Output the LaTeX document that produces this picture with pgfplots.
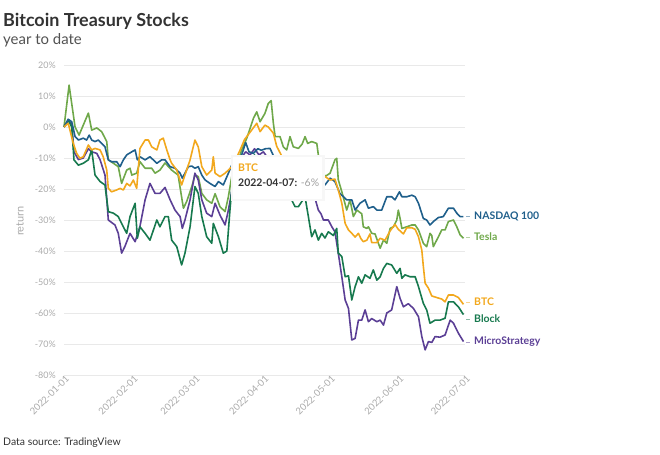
\documentclass[border=0pt]{standalone}
\usepackage{fontspec}
\setmainfont{Lato}
\usepackage{pgfplots}
\pgfplotsset{compat=1.18}
\definecolor{cNas}{HTML}{1F5F8B}
\definecolor{cTes}{HTML}{6FA84A}
\definecolor{cBtc}{HTML}{F2A81D}
\definecolor{cBlk}{HTML}{17794E}
\definecolor{cMst}{HTML}{5B3F95}
\definecolor{cTick}{HTML}{AAAAAA}
\definecolor{cGrid}{HTML}{E9E9E9}
\definecolor{cTitle}{HTML}{333333}
\begin{document}
\begin{tikzpicture}[x=1bp,y=1bp]
\path[use as bounding box] (0,0) rectangle (660,-455);
\node[anchor=base west, inner sep=0pt, font=\bfseries\fontsize{18}{20}\selectfont, text=cTitle] at (3,-27) {Bitcoin Treasury Stocks};
\node[anchor=base west, inner sep=0pt, font=\fontsize{15}{18}\selectfont, text=cTitle!85] at (3,-45) {year to date};
\node[anchor=base west, inner sep=0pt, font=\fontsize{10.5}{12}\selectfont, text=cTitle] at (3,-445) {Data source: TradingView};
\node[rotate=90, inner sep=0pt, font=\fontsize{11}{12}\selectfont, text=cTick] at (20,-221) {return};
\begin{axis}[
  at={(64bp,-375bp)}, anchor=south west, scale only axis,
  width=401bp, height=310bp,
  xmin=0, xmax=181, ymin=-80, ymax=20,
  axis line style={draw=none},
  tick style={draw=none},
  ymajorgrids, grid style={cGrid, line width=0.6bp},
  ytick={-80,-70,...,20},
  /pgf/number format/assume math mode=true,
  yticklabel={\pgfmathprintnumber{\tick}\%},
  yticklabel style={font=\fontsize{9}{10}\selectfont, text=cTick, inner sep=0pt, xshift=-8bp},
  xtick={0,31,59,90,120,151,181},
  xticklabels={2022-01-01,2022-02-01,2022-03-01,2022-04-01,2022-05-01,2022-06-01,2022-07-01},
  xticklabel style={font=\fontsize{9.5}{10}\selectfont, text=cTick, rotate=45, anchor=east, inner sep=0pt, xshift=1bp, yshift=-4bp},
  clip=false,
  every axis plot/.append style={line width=1.6bp, line join=round, mark=none},
]
\addplot[cTes] coordinates {(0,0) (2.3,13.5) (5.0,0) (6.8,-2.6) (11.0,4.5) (12.5,-1) (14.8,-0.3) (17.0,-1.5) (19.3,-4.7) (20.0,-10.6) (22.3,-11.7) (24.5,-12.8) (26.0,-18.2) (28.3,-13.9) (29.8,-13.3) (30.6,-15.5) (32.8,-14.9) (34.3,-11.2) (36.6,-13.3) (39.6,-13.3) (41.1,-14.9) (43.3,-13.9) (45.6,-11.6) (48.6,-13.9) (51.5,-15.5) (53.9,-26.2) (55.4,-24) (57.7,-19.2) (59.1,-15.5) (60.6,-16) (62.2,-21.4) (64.4,-23.5) (66.7,-24.6) (68.2,-21.5) (70.4,-25.7) (72.7,-27.3) (74.2,-22.5) (75.7,-16) (77.2,-13.9) (80.2,-7.4) (82.5,-3.6) (85.5,2.8) (87.0,4.9) (88.5,1.7) (90.7,4.4) (92.2,7.6) (93.5,8.5) (94.5,1.2) (95.3,-3.1) (97.5,-3.1) (99.0,-6.4) (100.5,-7.4) (102.0,-3.1) (103.5,-6.4) (105.8,-6.9) (107.5,-5.5) (108.8,-3.1) (110.0,-5.3) (111.8,-4.7) (114.1,-5.3) (114.8,-9) (116.3,-13) (117.8,-16) (120.1,-14.9) (122.3,-10.6) (123.1,-10.1) (123.8,-17) (125.4,-20.9) (127.6,-26.8) (129.1,-23.5) (130.6,-28.9) (132.2,-26.8) (134.4,-28) (135.1,-32.2) (136.7,-32.7) (137.4,-32.2) (138.9,-34.3) (140.4,-34.5) (142.7,-39.1) (144.2,-36.5) (145.7,-37.5) (147.2,-32.7) (148.7,-32.2) (150.2,-30) (150.9,-26.8) (151.7,-29.5) (152.5,-32.7) (154.7,-32.2) (157.0,-31.6) (158.5,-31.6) (160.0,-33.2) (162.2,-37.5) (163.7,-38.6) (165.2,-34.3) (166.0,-35) (166.7,-38.6) (169.0,-35.4) (170.5,-33.2) (172.0,-33.2) (173.5,-30.5) (175.8,-30) (177.3,-32.2) (178.8,-34.8) (180.3,-35.9)};
\addplot[cMst] coordinates {(0,0) (1.9,2) (3.5,1) (4.5,-8) (6.5,-10.5) (8.7,-10) (11,-7) (12.5,-8) (14.8,-8.5) (16.3,-10.6) (18.5,-15.5) (20,-30) (23,-31.6) (24.5,-34.3) (26,-40.7) (27.5,-38.5) (29.8,-34.3) (32.1,-37) (34.3,-32) (36.6,-23.5) (38.8,-18.2) (41.1,-21.4) (43.3,-21.4) (45.6,-19.5) (47.9,-23.5) (50.1,-26.8) (52.4,-28.9) (53.4,-32.7) (54.6,-30) (56.9,-23.5) (59.1,-14.9) (60.6,-17.1) (62.2,-23.5) (64.4,-27.8) (66.7,-28.9) (68.2,-24.6) (70.4,-28.4) (72.7,-31.6) (74.2,-26.8) (75.7,-20.9) (77.5,-14) (80,-10) (82,-8) (84,-9) (86,-7) (88,-9) (90,-8) (92,-10) (94,-12) (96,-14) (98,-16) (100,-18) (102,-17) (104,-20) (106,-21) (108.8,-21.5) (110.3,-22.5) (112.6,-21.4) (113.3,-23) (114.8,-26.8) (116,-28) (117.1,-30) (119.3,-30) (120.9,-32.2) (122.3,-33.8) (123.8,-40.7) (125.4,-48.3) (126.9,-55.8) (128.4,-58.5) (129.9,-68.7) (131.4,-68.2) (132.9,-62.3) (134.4,-62.3) (135.9,-59) (137.4,-62.8) (138.9,-61.8) (141.2,-62.8) (142.7,-62.3) (144.2,-63.9) (145.7,-60) (147.9,-59) (150.2,-51.5) (151.7,-55.3) (153.2,-58) (155.4,-57) (157.7,-58.5) (160.0,-61.2) (161.5,-67.6) (163.0,-71.9) (164.5,-69.2) (166.0,-69.5) (167.5,-67.6) (169.7,-67.8) (172.0,-67.1) (174.3,-62.3) (175.8,-63.3) (178.0,-66.5) (180.3,-69.2)};
\addplot[cBlk] coordinates {(0,0) (1.9,2.3) (3.5,0) (4.5,-10.6) (6.5,-12.3) (8.7,-11.7) (11.0,-10.6) (12.5,-7.4) (14.0,-15.5) (16.3,-17.6) (18.5,-18.7) (20.0,-27.3) (22.3,-27.8) (24.5,-28.9) (26.0,-31.1) (28.3,-34.3) (29.8,-28.9) (32.1,-24.6) (33.1,-35.9) (34.3,-32.2) (36.6,-34.3) (38.8,-36.5) (41.9,-30) (43.3,-32.2) (45.6,-28.9) (47.1,-28.9) (48.6,-36.5) (50.9,-38.6) (53.1,-44.5) (54.6,-40.7) (56.9,-32.2) (59.1,-19.2) (60.6,-21.4) (62.2,-28.9) (64.4,-35.4) (66.7,-37.5) (67.4,-31.1) (69.7,-35.4) (71.9,-40.7) (73.5,-40) (74.9,-26.8) (75.7,-20.3) (77.5,-15) (80,-12) (82,-10) (84,-11) (86,-9) (88,-12) (90,-13) (92,-14) (94,-17) (96.7,-22.5) (99.0,-23) (100.5,-22.5) (102.0,-22.5) (104.3,-25.7) (105.8,-25.7) (108.8,-22.5) (110.3,-28.9) (111.8,-35.4) (113.3,-33.2) (114.8,-36.5) (116.3,-34.3) (117.8,-35.8) (119.3,-33.8) (121.6,-35) (123.1,-32.7) (123.8,-40.7) (125.4,-41.8) (126.9,-48.3) (128.4,-48) (129.9,-55.8) (131.4,-51.5) (132.9,-48.3) (134.4,-50.4) (135.9,-47.7) (138.1,-48.8) (139.6,-46.1) (141.2,-49.4) (142.7,-48.3) (144.2,-45.6) (145.7,-44) (147.9,-44.5) (150.2,-47.2) (151.7,-45.6) (152.5,-48.8) (153.9,-47.7) (156.2,-48.3) (158.5,-48.3) (160.0,-51.5) (162.2,-56.9) (163.7,-59) (165.2,-63.3) (167.5,-62.3) (169.7,-62.3) (172.0,-61.7) (173.5,-56.4) (175.8,-56.4) (178.0,-58) (180.3,-60.5)};
\addplot[cNas] coordinates {(0,0) (1.9,2.5) (3.5,1.7) (5.0,-3.1) (6.5,-4.2) (8.7,-3.6) (10.2,-4.2) (11.4,-2.6) (12.5,-4.2) (14.0,-4.7) (15.5,-4.2) (17.0,-5.3) (18.5,-6.4) (20.0,-10.6) (21.5,-11.2) (23.8,-11.2) (25.3,-12.8) (26.8,-10.6) (28.3,-9.0) (30.6,-8.0) (32.1,-7.4) (33.1,-10.6) (34.3,-9.6) (36.6,-10.6) (38.8,-9.6) (40.3,-10.6) (41.9,-11.7) (44.1,-10.6) (45.6,-10.6) (47.9,-12.8) (50.1,-13.3) (52.4,-14.9) (53.4,-16.5) (54.6,-14.9) (56.1,-12.8) (57.7,-12.6) (59.1,-13.3) (60.6,-12.8) (62.2,-15.5) (63.7,-17.1) (65.9,-18.2) (68.2,-19.2) (69.7,-17.6) (71.9,-18.7) (74.2,-14.9) (75.7,-12.3) (77.5,-10.5) (80.2,-9) (82,-5) (83.5,-8) (85.5,-8.5) (87.5,-7) (89,-7.5) (91,-7) (93,-6.9) (95,-10) (97,-12) (99,-13) (101,-12) (103,-15) (105,-16) (107,-15) (109,-18) (111,-17) (113,-19) (115,-18.5) (116.3,-18.2) (117.8,-18.7) (120.1,-16.5) (122.3,-17.6) (124.5,-21.4) (127.6,-23.5) (129.9,-23.5) (131.4,-26.8) (133.6,-24.6) (135.9,-23.5) (137.4,-26.2) (139.6,-25.7) (141.2,-26.8) (143.4,-26.8) (145.7,-22.5) (147.9,-22.5) (149.4,-23.5) (151.4,-20.9) (152.5,-22.5) (154.7,-22.5) (157.0,-22.0) (158.5,-22.5) (160.0,-24.6) (162.2,-29.5) (163.7,-30) (165.2,-31.6) (166.7,-30.5) (169.0,-29.2) (171.2,-28.9) (173.5,-26.2) (175.8,-26.2) (177.3,-27.8) (178.8,-28.9) (180.3,-28.9)};
\addplot[cBtc] coordinates {(0,0) (1.9,1.2) (4.2,-5.3) (5.7,-8.5) (7.2,-10.1) (8.7,-9.6) (11.0,-5.8) (12.5,-7.4) (14.0,-6.9) (16.3,-7.4) (17.7,-9.6) (19.3,-13.9) (20.0,-19.8) (21.5,-20.9) (23.8,-20.3) (25.3,-19.8) (26.8,-20.3) (28.3,-18.2) (29.8,-19) (31.3,-17.1) (32.8,-19.8) (34.3,-6.9) (36.6,-4.2) (38.1,-4.2) (39.6,-6.4) (41.9,-7.4) (43.3,-4.2) (44.8,-3.6) (46.4,-7.4) (47.9,-10.6) (48.6,-11.7) (50.9,-13.9) (53.1,-18.7) (54.6,-15.5) (56.9,-10.6) (59.1,-4.2) (60.6,-6.4) (62.2,-12.8) (64.4,-15.5) (66.7,-13.9) (67.4,-9.6) (68.2,-14.9) (70.4,-16) (72.7,-14.9) (74.2,-13.9) (75.7,-12.8) (77.2,-11) (79.5,-7.4) (81.5,-4) (82.5,-3.1) (84.7,-1) (87.0,1.2) (88.5,-1.5) (90.7,0.6) (92.2,0) (94.5,-2) (96.0,-6.2) (98,-9) (99.5,-14.7) (101,-14) (103,-13.5) (105,-10) (107,-12.5) (108.5,-12.8) (110,-17.7) (112,-14.5) (114,-15) (115.6,-13.9) (117.8,-16) (120.1,-17.1) (122.3,-16.8) (123.8,-20.3) (125.4,-24.6) (126.9,-31.1) (128.4,-33.2) (129.9,-34.3) (131.4,-35.5) (132.9,-34.3) (134,-36) (135.1,-37) (136.7,-36.5) (138.1,-34.5) (138.9,-37.3) (141.2,-37.3) (142.7,-35.9) (144.9,-36.5) (147.2,-33.5) (149.4,-31.4) (150.9,-33) (153.2,-34.5) (154.7,-32.5) (157.0,-32.5) (158.5,-33) (160.0,-35.4) (161.5,-39.7) (162.2,-45) (163.0,-50.4) (164.5,-52) (166.0,-54.5) (168.2,-55) (170.5,-55.5) (172.0,-56.4) (173.5,-54.2) (175.8,-54.2) (178.0,-55) (180.3,-57.2)};
\end{axis}
% end labels
\begin{scope}[line width=0.8bp]
\draw[cNas!50] (466,-216) -- (470,-216);
\draw[cTes!50] (466,-237) -- (470,-237);
\draw[cBtc!50] (466,-302) -- (470,-302);
\draw[cBlk!50] (466,-319) -- (470,-319);
\draw[cMst!50] (466,-342) -- (470,-342);
\end{scope}
\begin{scope}[every node/.style={anchor=west, inner sep=0pt, font=\bfseries\fontsize{10.5}{12}\selectfont}]
\node[text=cNas] at (474,-216) {NASDAQ 100};
\node[text=cTes] at (474,-237) {Tesla};
\node[text=cBtc] at (474,-302) {BTC};
\node[text=cBlk] at (474,-319) {Block};
\node[text=cMst] at (474,-342) {MicroStrategy};
\end{scope}
% tooltip
\fill[black!6] (232,-156) rectangle (323.5,-200.5);
\fill[black!3] (231,-155) rectangle (324.5,-201.5);
\fill[white] (233,-157) rectangle (322,-199);
\node[anchor=base west, inner sep=0pt, font=\bfseries\fontsize{10.5}{12}\selectfont, text=cBtc] at (238,-172) {BTC};
\node[anchor=base west, inner sep=0pt, font=\fontsize{10.5}{12}\selectfont, text=cTitle] at (238,-187) {\textbf{2022-04-07:} \textcolor{cTick!110}{-6\%}};
\end{tikzpicture}
\end{document}
